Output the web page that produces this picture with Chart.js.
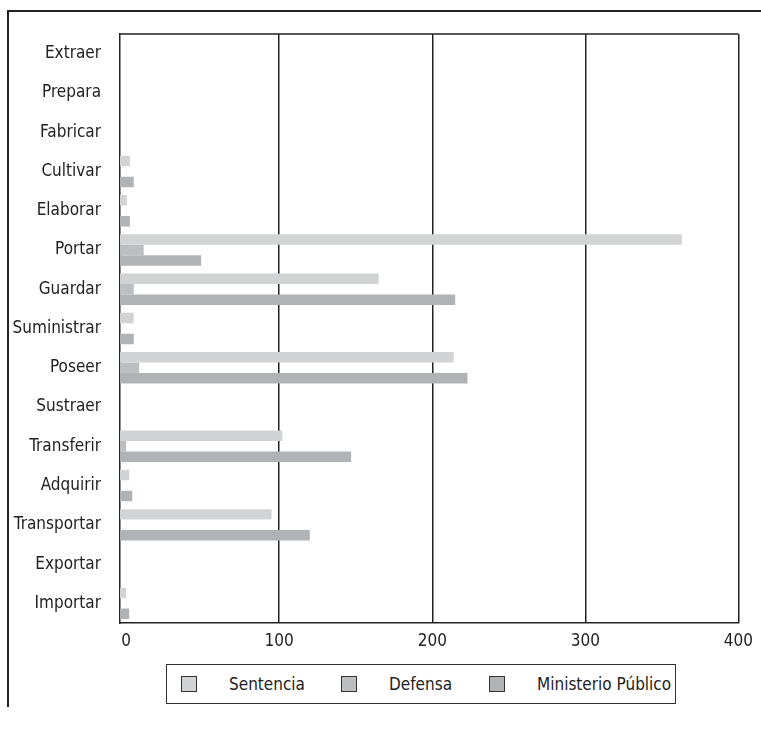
<!DOCTYPE html>
<html>
<head>
<meta charset="utf-8">
<script src="https://cdn.jsdelivr.net/npm/chart.js@4/dist/chart.umd.min.js"></script>
<style>
  html, body { margin: 0; padding: 0; background: #fff; }
  body { width: 761px; height: 732px; position: relative; overflow: hidden;
         font-family: "Liberation Sans Narrow", "DejaVu Sans Condensed", sans-serif; }
  #frame { position: absolute; left: 7px; top: 10px; width: 760px; height: 695px;
           border-top: 2px solid #222; border-left: 2px solid #222; }
  #wrap { position: absolute; left: 0; top: 0; width: 761px; height: 655px; }
  #legend { position: absolute; left: 166px; top: 664px; width: 510px; height: 40px;
            border: 1.5px solid #333; box-sizing: border-box; }
  .item { position: absolute; top: 0; height: 100%; display: flex; align-items: center;
          font-size: 17px; color: #222; }
  .box { width: 16px; height: 16px; border: 1px solid #333; box-sizing: border-box; }
</style>
</head>
<body>
<div id="frame"></div>
<div id="wrap"><canvas id="chart"></canvas></div>
<div id="legend"></div>
<script>
  // Data
  const categories = ['Extraer', 'Prepara', 'Fabricar', 'Cultivar', 'Elaborar', 'Portar', 'Guardar',
    'Suministrar', 'Poseer', 'Sustraer', 'Transferir', 'Adquirir', 'Transportar', 'Exportar', 'Importar'];
  const sentencia  = [null, null, null, 2.5, 0.5, 363, 165, 5, 214, null, 102, 2, 95, null, 0];
  const defensa    = [null, null, null, null, null, 11.5, 5, null, 8.5, null, 0, null, null, null, null];
  const ministerio = [null, null, null, 5, 2.5, 49, 215, 5, 223, null, 147, 4, 120, null, 2];
  const xTicks = [0, 100, 200, 300, 400];

  const seriesNames = ['Sentencia', 'Defensa', 'Ministerio Público'];
  const colors = ['#d2d3d5', '#bdbec0', '#b0b3b6'];
  const AXIS_MIN = -4;

  const FONT = { family: '"Liberation Sans Narrow", "DejaVu Sans Condensed", sans-serif', size: 17 };

  // Top edge of the plot box
  const frameTop = {
    id: 'frameTop',
    afterDraw(chart) {
      const { ctx, chartArea: a } = chart;
      ctx.save();
      ctx.strokeStyle = '#222';
      ctx.lineWidth = 1.5;
      ctx.beginPath();
      ctx.moveTo(a.left, a.top);
      ctx.lineTo(a.right, a.top);
      ctx.stroke();
      ctx.restore();
    }
  };

  const ctx = document.getElementById('chart').getContext('2d');
  const chart = new Chart(ctx, {
    type: 'bar',
    data: {
      labels: categories,
      datasets: [sentencia, defensa, ministerio].map((d, i) => ({
        label: seriesNames[i],
        data: d,
        backgroundColor: colors[i],
        base: AXIS_MIN,
        categoryPercentage: 0.8,
        barPercentage: 1.0
      }))
    },
    options: {
      indexAxis: 'y',
      responsive: true,
      maintainAspectRatio: false,
      animation: false,
      layout: { padding: { top: 34, right: 21, bottom: 5, left: 0 } },
      plugins: { legend: { display: false }, tooltip: { enabled: false } },
      scales: {
        x: {
          min: AXIS_MIN,
          max: 400,
          afterBuildTicks: s => { s.ticks = xTicks.map(v => ({ value: v })); },
          afterFit: s => { s.height = 27; },
          grid: {
            drawTicks: false,
            color: c => (c.tick && c.tick.value === 0) ? 'rgba(0,0,0,0)' : '#222',
            lineWidth: 1.5
          },
          border: { color: '#222', width: 1.5 },
          ticks: { color: '#222', font: FONT, padding: 8, maxRotation: 0 }
        },
        y: {
          afterFit: s => { s.width = 120; },
          grid: { display: false, drawTicks: false },
          border: { color: '#222', width: 1.5 },
          ticks: { color: '#222', font: FONT, padding: 19, autoSkip: false }
        }
      }
    },
    plugins: [frameTop]
  });

  // Boxed legend under the plot
  const legendEl = document.getElementById('legend');
  const boxX = [14, 174, 322];
  const textX = [62, 222, 370];
  seriesNames.forEach((name, i) => {
    const b = document.createElement('div');
    b.className = 'item';
    b.style.left = boxX[i] + 'px';
    b.innerHTML = `<div class="box" style="background:${colors[i]}"></div>`;
    legendEl.appendChild(b);
    const t = document.createElement('div');
    t.className = 'item';
    t.style.left = textX[i] + 'px';
    t.textContent = name;
    legendEl.appendChild(t);
  });
</script>
</body>
</html>
